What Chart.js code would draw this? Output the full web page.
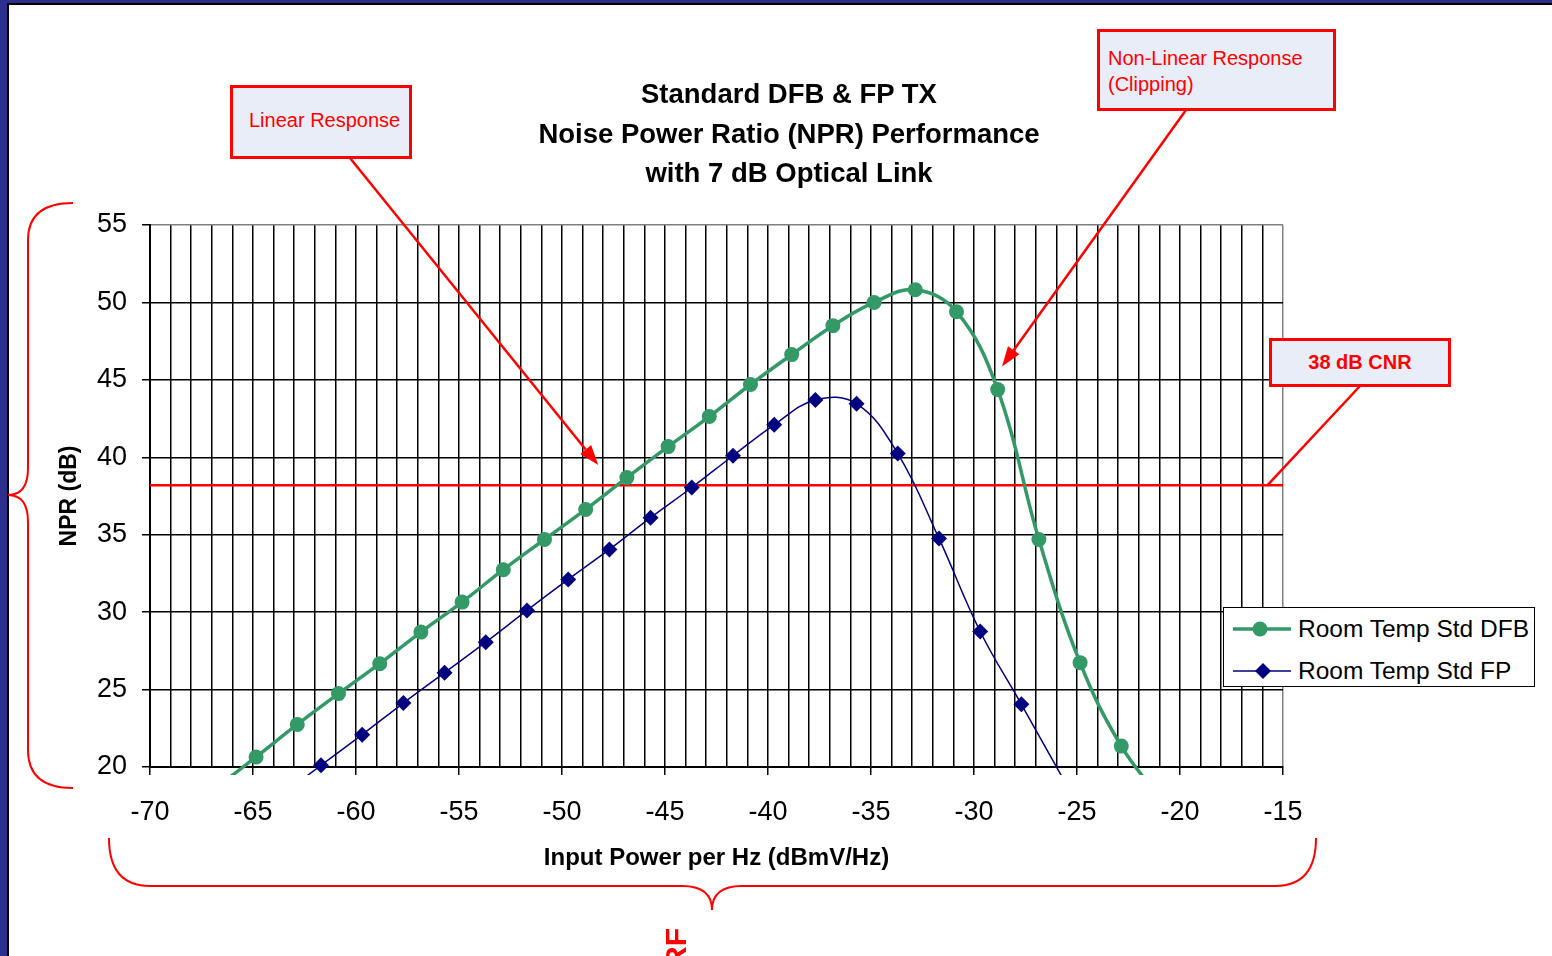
<!DOCTYPE html>
<html>
<head>
<meta charset="utf-8">
<script src="https://cdn.jsdelivr.net/npm/chart.js@4.4.0/dist/chart.umd.min.js"></script>
<style>
  body { margin: 0; width: 1552px; height: 956px; overflow: hidden; background: #2c2f8c; font-family: "Liberation Sans", Arial, sans-serif; }
  #panel { position: absolute; left: 7px; top: 3px; right: 0; bottom: 0; background: #fff; border-left: 2px solid #000; border-top: 2px solid #000; }
  #chart { position: absolute; left: 0; top: 0; }
  #title { position: absolute; left: 489px; top: 74px; width: 600px; text-align: center; font-weight: bold; font-size: 27.5px; line-height: 39.5px; color: #000; }
  .box { position: absolute; box-sizing: border-box; border: 3px solid #f00; background: #e8edf7; color: #f00; font-size: 20px; }
  #legend { position: absolute; left: 1223px; top: 607px; width: 312px; height: 80px; box-sizing: border-box; border: 1.5px solid #000; background: #fff; font-size: 24.5px; color: #000; }
  #legend .row { position: absolute; left: 8px; height: 30px; display: flex; align-items: center; white-space: nowrap; }
  #legend svg { margin-right: 6px; }
</style>
</head>
<body>
<div id="panel"></div>
<canvas id="chart" width="1552" height="956"></canvas>
<div id="title">Standard DFB &amp; FP TX<br>Noise Power Ratio (NPR) Performance<br>with 7 dB Optical Link</div>
<div class="box" style="left:230px;top:85px;width:182px;height:74px;padding:21px 0 0 16px;">Linear Response</div>
<div class="box" style="left:1097px;top:29px;width:239px;height:82px;padding:13px 0 0 8px;line-height:26px;">Non-Linear Response<br>(Clipping)</div>
<div class="box" style="left:1269px;top:338px;width:182px;height:49px;padding:10px 0 0 0;text-align:center;font-weight:bold;">38 dB CNR</div>
<div id="legend">
  <div class="row" style="top:6px;"><svg width="60" height="20"><line x1="1" y1="10" x2="59" y2="10" stroke="#339966" stroke-width="3.5"/><circle cx="28" cy="10" r="7.5" fill="#339966"/></svg><span>Room Temp Std DFB</span></div>
  <div class="row" style="top:48px;"><svg width="60" height="20"><line x1="1" y1="10" x2="59" y2="10" stroke="#000080" stroke-width="1.5"/><polygon points="31,2 39,10 31,18 23,10" fill="#000080"/></svg><span>Room Temp Std FP</span></div>
</div>
<script>
// input power (dBmV/Hz) and NPR (dB); first/last points fall below the axis
const dfbX   = [-66.85, -64.85, -62.85, -60.85, -58.85, -56.85, -54.85, -52.85, -50.85, -48.85, -46.85, -44.85,
                -42.85, -40.85, -38.85, -36.85, -34.85, -32.85, -30.85, -28.85, -26.85, -24.85, -22.85, -20.85];
const dfbNpr = [18.6, 20.65, 22.75, 24.74, 26.67, 28.71, 30.65, 32.74, 34.69, 36.63, 38.69, 40.69,
                42.63, 44.7, 46.63, 48.5, 50.0, 50.82, 49.4, 44.37, 34.69, 26.74, 21.35, 17.8];
const fpX    = [-63.7, -61.7, -59.7, -57.7, -55.7, -53.7, -51.7, -49.7, -47.7, -45.7,
                -43.7, -41.7, -39.7, -37.7, -35.7, -33.7, -31.7, -29.7, -27.7, -25.7];
const fpNpr  = [18.1, 20.11, 22.09, 24.13, 26.09, 28.06, 30.11, 32.11, 34.05, 36.1,
                38.05, 40.1, 42.1, 43.7, 43.45, 40.24, 34.76, 28.75, 24.05, 19.3];
const cnrLevel = 38.2;
const cnrX = [-70, -15];
const xMin = -70, xMax = -15, yMin = 20, yMax = 55;

const toPoints = (xs, ys) => xs.map((x, i) => ({ x, y: ys[i] }));
const onlyInRange = r => ctx => (ctx.raw && ctx.raw.y >= yMin ? r : 0);
const red = '#ff0000';

function arrow(ctx, x1, y1, x2, y2, head) {
    const a = Math.atan2(y2 - y1, x2 - x1);
    const bx = x2 - head * Math.cos(a), by = y2 - head * Math.sin(a);
    ctx.beginPath();
    ctx.moveTo(x1, y1);
    ctx.lineTo(bx, by);
    ctx.stroke();
    ctx.beginPath();
    ctx.moveTo(x2, y2);
    ctx.lineTo(bx + 7 * Math.sin(a), by - 7 * Math.cos(a));
    ctx.lineTo(bx - 7 * Math.sin(a), by + 7 * Math.cos(a));
    ctx.closePath();
    ctx.fill();
}

const decorations = {
    id: 'decorations',
    afterDraw(chart) {
        const { ctx, scales: { x, y } } = chart;
        ctx.save();
        ctx.strokeStyle = red;
        ctx.fillStyle = red;
        ctx.lineWidth = 2.5;
        // callout arrows
        arrow(ctx, 350, 158, x.getPixelForValue(-48.24), y.getPixelForValue(39.5), 20);
        arrow(ctx, 1186, 110, x.getPixelForValue(-28.64), y.getPixelForValue(45.86), 20);
        ctx.beginPath();
        ctx.moveTo(1360, 386);
        ctx.lineTo(x.getPixelForValue(-15.75), y.getPixelForValue(cnrLevel));
        ctx.stroke();
        // braces
        ctx.lineWidth = 2;
        ctx.beginPath();
        ctx.moveTo(73, 203);
        ctx.quadraticCurveTo(28, 203, 28, 240);
        ctx.lineTo(28, 468);
        ctx.quadraticCurveTo(28, 495, 8, 495);
        ctx.quadraticCurveTo(28, 495, 28, 522);
        ctx.lineTo(28, 750);
        ctx.quadraticCurveTo(28, 788, 73, 788);
        ctx.stroke();
        ctx.beginPath();
        ctx.moveTo(109, 838);
        ctx.quadraticCurveTo(109, 886, 150, 886);
        ctx.lineTo(682, 886);
        ctx.quadraticCurveTo(712, 886, 712, 910);
        ctx.quadraticCurveTo(712, 886, 742, 886);
        ctx.lineTo(1275, 886);
        ctx.quadraticCurveTo(1316, 886, 1316, 838);
        ctx.stroke();
        // cut-off rotated label below the brace
        ctx.translate(686, 928);
        ctx.rotate(-Math.PI / 2);
        ctx.textAlign = 'right';
        ctx.font = 'bold 30px "Liberation Sans", Arial, sans-serif';
        ctx.fillText('RF', 0, 0);
        ctx.restore();
    }
};

new Chart(document.getElementById('chart').getContext('2d'), {
    type: 'scatter',
    data: {
        datasets: [
            {
                label: 'Room Temp Std DFB',
                data: toPoints(dfbX, dfbNpr),
                showLine: true,
                borderColor: '#339966',
                backgroundColor: '#339966',
                borderWidth: 3.5,
                pointStyle: 'circle',
                pointRadius: onlyInRange(7.5),
                pointBorderWidth: 0,
                tension: 0.4,
                clip: { left: 0, top: 0, right: 0, bottom: 8 }
            },
            {
                label: 'Room Temp Std FP',
                data: toPoints(fpX, fpNpr),
                showLine: true,
                borderColor: '#000080',
                backgroundColor: '#000080',
                borderWidth: 1.5,
                pointStyle: 'rectRot',
                pointRadius: onlyInRange(8),
                pointBorderWidth: 0,
                tension: 0.4,
                clip: { left: 0, top: 0, right: 0, bottom: 8 }
            },
            {
                label: '38 dB CNR',
                data: toPoints(cnrX, cnrX.map(() => cnrLevel)),
                showLine: true,
                borderColor: red,
                borderWidth: 2.5,
                pointRadius: 0
            }
        ]
    },
    options: {
        responsive: false,
        animation: false,
        layout: { padding: { left: 56, top: 225, right: 269, bottom: 79 } },
        plugins: { legend: { display: false }, tooltip: { enabled: false } },
        scales: {
            x: {
                type: 'linear',
                min: xMin,
                max: xMax,
                afterFit: s => { s.height = 110; },
                ticks: {
                    stepSize: 1,
                    autoSkip: false,
                    maxRotation: 0,
                    padding: 21,
                    color: '#000',
                    font: { family: '"Liberation Sans", Arial', size: 27 },
                    callback: v => (v % 5 === 0 ? String(v) : '')
                },
                grid: {
                    color: c => (c.tick && c.tick.value === xMax ? '#808080' : '#000'),
                    lineWidth: 1.5,
                    tickLength: 8,
                    tickColor: c => (c.tick && c.tick.value % 5 === 0 ? '#000' : 'rgba(0,0,0,0)')
                },
                border: { color: '#000', width: 2 },
                title: {
                    display: true,
                    text: 'Input Power per Hz (dBmV/Hz)',
                    color: '#000',
                    font: { family: '"Liberation Sans", Arial', size: 24, weight: 'bold' },
                    padding: { top: 0, bottom: 4 }
                }
            },
            y: {
                min: yMin,
                max: yMax,
                afterFit: s => { s.width = 94; },
                ticks: {
                    stepSize: 5,
                    padding: 15,
                    color: '#000',
                    font: { family: '"Liberation Sans", Arial', size: 27 }
                },
                grid: {
                    color: c => (c.tick && c.tick.value === yMax ? '#808080' : '#000'),
                    lineWidth: 1.5,
                    tickLength: 8,
                    tickColor: '#000'
                },
                border: { color: '#000', width: 2 },
                title: {
                    display: true,
                    text: 'NPR (dB)',
                    color: '#000',
                    font: { family: '"Liberation Sans", Arial', size: 23, weight: 'bold' },
                    padding: 0
                }
            }
        }
    },
    plugins: [decorations]
});
</script>
</body>
</html>
